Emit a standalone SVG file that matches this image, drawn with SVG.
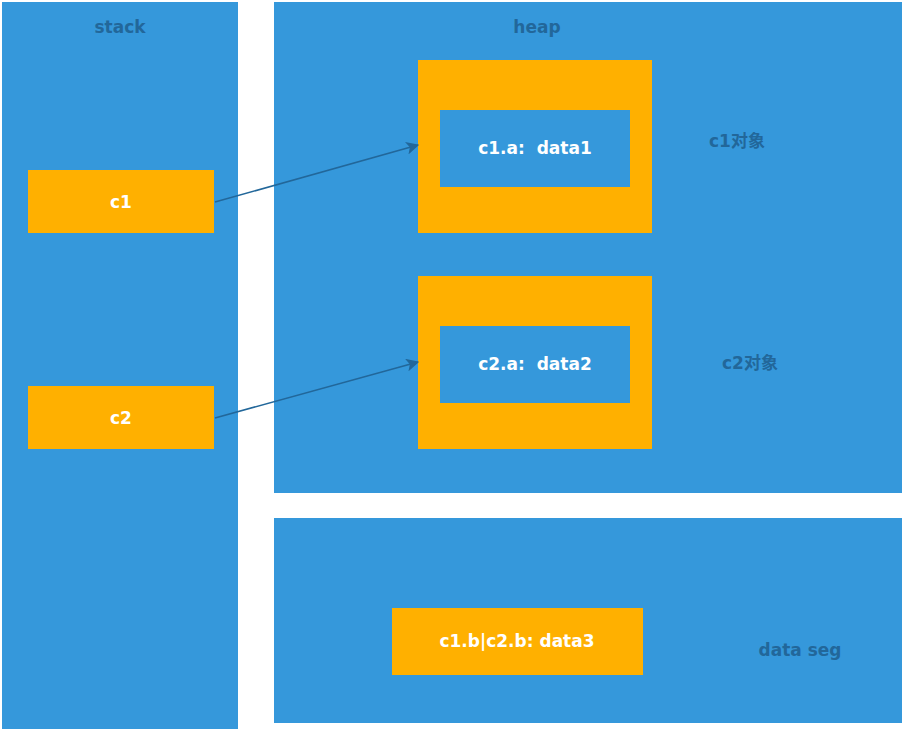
<svg xmlns="http://www.w3.org/2000/svg" width="902" height="730" viewBox="0 0 902 730">
<defs>
<marker id="ah" viewBox="0 0 10 10" refX="9" refY="5" markerWidth="13" markerHeight="13" markerUnits="userSpaceOnUse" orient="auto">
<path d="M0,0 L10,5 L0,10 L2.5,5 Z" fill="#22679A"/>
</marker>
<style>
.reg{fill:#3598DB}
.org{fill:#FFB000}
.lbl{font-family:"DejaVu Sans","Noto Sans CJK SC",sans-serif;font-size:17px;font-weight:bold;fill:#22679A;text-anchor:middle;dominant-baseline:central}
.wt{font-family:"DejaVu Sans","Noto Sans CJK SC",sans-serif;font-size:17px;font-weight:bold;fill:#FFFFFF;text-anchor:middle;dominant-baseline:central}
.conn{stroke:#22679A;stroke-width:1.6;fill:none;marker-end:url(#ah)}
</style>
</defs>
<rect width="902" height="730" fill="#FFFFFF"/>
<g id="stack">
<rect class="reg" x="2" y="2" width="236" height="727"/>
<text class="lbl" x="120" y="27">stack</text>
</g>
<g id="heap">
<rect class="reg" x="274" y="2" width="628" height="491"/>
<text class="lbl" x="537" y="27">heap</text>
</g>
<g id="dataseg">
<rect class="reg" x="274" y="518" width="628" height="205"/>
<text class="lbl" x="800" y="650">data seg</text>
</g>
<g id="c1">
<rect class="org" x="28" y="170" width="186" height="63"/>
<text class="wt" x="121" y="202">c1</text>
</g>
<g id="c2">
<rect class="org" x="28" y="386" width="186" height="63"/>
<text class="wt" x="121" y="418">c2</text>
</g>
<g id="c1obj">
<rect class="org" x="418" y="60" width="234" height="173"/>
<rect class="reg" x="440" y="110" width="190" height="77"/>
<text class="wt" x="535" y="148" xml:space="preserve">c1.a:  data1</text>
<text class="lbl" x="737" y="141">c1对象</text>
</g>
<g id="c2obj">
<rect class="org" x="418" y="276" width="234" height="173"/>
<rect class="reg" x="440" y="326" width="190" height="77"/>
<text class="wt" x="535" y="364" xml:space="preserve">c2.a:  data2</text>
<text class="lbl" x="750" y="363">c2对象</text>
</g>
<g id="data3">
<rect class="org" x="392" y="608" width="251" height="67"/>
<text class="wt" x="517" y="641">c1.b|c2.b: data3</text>
</g>
<g id="connectors">
<line class="conn" x1="215" y1="202" x2="418" y2="145"/>
<line class="conn" x1="215" y1="418" x2="418" y2="362"/>
</g>
</svg>
